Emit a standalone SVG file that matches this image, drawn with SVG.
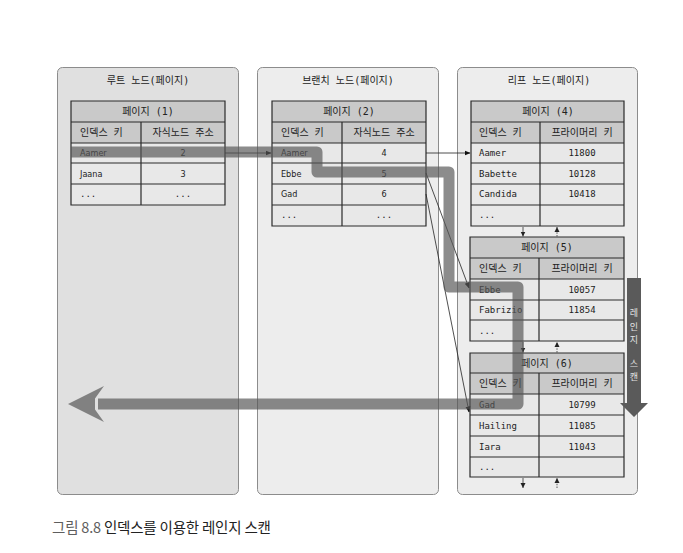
<svg xmlns="http://www.w3.org/2000/svg" width="683" height="553" viewBox="0 0 683 553">
<defs>
<style>
.panel{stroke:#8c8c8c;stroke-width:1}
.ttl{font-family:"DejaVu Sans Mono","Noto Sans CJK KR",monospace;font-size:10px;fill:#222;text-anchor:middle}
.hd{fill:#c9c9c9}
.row{fill:#e8e8e8}
.grid{fill:none;stroke:#2a2a2a;stroke-width:1.2}
.k{font-family:"DejaVu Sans Mono","Noto Sans CJK KR",monospace;font-size:10px;fill:#222}
.c{text-anchor:middle}
.p{font-family:"DejaVu Sans Condensed","DejaVu Sans",sans-serif;font-size:9px;fill:#222}
.m{font-family:"DejaVu Sans Mono",monospace;font-size:9px;fill:#222}
.thin{fill:none;stroke:#222;stroke-width:0.8}
.sm{fill:none;stroke:#333;stroke-width:0.8}
.dash{stroke-dasharray:1.5 1.2}
</style>
<marker id="ah" markerWidth="6" markerHeight="6" refX="5.5" refY="3" orient="auto" markerUnits="userSpaceOnUse">
<path d="M0,0.5 L6,3 L0,5.5 Z" fill="#111"/>
</marker>
<marker id="sh" markerWidth="6" markerHeight="6" refX="5" refY="3" orient="auto" markerUnits="userSpaceOnUse">
<path d="M0,0.5 L5,3 L0,5.5 Z" fill="#222"/>
</marker>
</defs>
<rect width="683" height="553" fill="#ffffff"/>

<g id="root-node">
<rect class="panel" x="57.5" y="67.5" width="181" height="427" rx="5" fill="#e0e0e0"/>
<text class="ttl" x="148" y="84">루트 노드(페이지)</text>
<g id="page1">
<rect class="hd" x="71" y="101" width="154" height="42"/>
<rect class="row" x="71" y="143" width="154" height="62"/>
<path class="grid" d="M71,101H225V205H71Z M71,122H225 M71,143H225 M71,163H225 M71,184H225 M141,122V205"/>
<text class="k c" x="148" y="115">페이지 (1)</text>
<text class="k" x="80" y="136">인덱스 키</text>
<text class="k c" x="183" y="136">자식노드 주소</text>
<text class="p" x="80" y="156">Aamer</text><text class="p c" x="183" y="156">2</text>
<text class="p" x="80" y="177">Jaana</text><text class="p c" x="183" y="177">3</text>
<text class="m" x="80" y="197">...</text><text class="m c" x="183" y="197">...</text>
</g>
</g>

<g id="branch-node">
<rect class="panel" x="257.5" y="67.5" width="181" height="427" rx="5" fill="#ededed"/>
<text class="ttl" x="348" y="84">브랜치 노드(페이지)</text>
<g id="page2">
<rect class="hd" x="272" y="101" width="154" height="42"/>
<rect class="row" x="272" y="143" width="154" height="83"/>
<path class="grid" d="M272,101H426V226H272Z M272,122H426 M272,143H426 M272,163H426 M272,184H426 M272,205H426 M342,122V226"/>
<text class="k c" x="349" y="115">페이지 (2)</text>
<text class="k" x="281" y="136">인덱스 키</text>
<text class="k c" x="384" y="136">자식노드 주소</text>
<text class="p" x="281" y="156">Aamer</text><text class="p c" x="384" y="156">4</text>
<text class="p" x="281" y="177">Ebbe</text><text class="p c" x="384" y="177">5</text>
<text class="p" x="281" y="197">Gad</text><text class="p c" x="384" y="197">6</text>
<text class="m" x="281" y="218">...</text><text class="m c" x="384" y="218">...</text>
</g>
</g>

<g id="leaf-node">
<rect class="panel" x="457.5" y="67.5" width="180" height="427" rx="5" fill="#ededed"/>
<text class="ttl" x="549" y="84">리프 노드(페이지)</text>
<g id="page4">
<rect class="hd" x="471" y="101" width="153" height="42"/>
<rect class="row" x="471" y="143" width="153" height="83"/>
<path class="grid" d="M471,101H624V226H471Z M471,122H624 M471,143H624 M471,163H624 M471,184H624 M471,205H624 M540,122V226"/>
<text class="k c" x="548" y="115">페이지 (4)</text>
<text class="k" x="479" y="136">인덱스 키</text>
<text class="k c" x="582" y="136">프라이머리 키</text>
<text class="m" x="479" y="156">Aamer</text><text class="m c" x="582" y="156">11800</text>
<text class="m" x="479" y="177">Babette</text><text class="m c" x="582" y="177">10128</text>
<text class="m" x="479" y="197">Candida</text><text class="m c" x="582" y="197">10418</text>
<text class="m" x="479" y="218">...</text>
</g>
<g id="page5">
<rect class="hd" x="470" y="237" width="154" height="42"/>
<rect class="row" x="470" y="279" width="154" height="62"/>
<path class="grid" d="M470,237H624V341H470Z M470,258H624 M470,279H624 M470,300H624 M470,320H624 M539,258V341"/>
<text class="k c" x="547" y="251">페이지 (5)</text>
<text class="k" x="479" y="272">인덱스 키</text>
<text class="k c" x="582" y="272">프라이머리 키</text>
<text class="m" x="479" y="293">Ebbe</text><text class="m c" x="582" y="293">10057</text>
<text class="m" x="479" y="313">Fabrizio</text><text class="m c" x="582" y="313">11854</text>
<text class="m" x="479" y="334">...</text>
</g>
<g id="page6">
<rect class="hd" x="470" y="353" width="154" height="41"/>
<rect class="row" x="470" y="394" width="154" height="83"/>
<path class="grid" d="M470,353H624V477H470Z M470,373H624 M470,394H624 M470,415H624 M470,436H624 M470,457H624 M539,373V477"/>
<text class="k c" x="547" y="367">페이지 (6)</text>
<text class="k" x="479" y="387">인덱스 키</text>
<text class="k c" x="582" y="387">프라이머리 키</text>
<text class="m" x="479" y="408">Gad</text><text class="m c" x="582" y="408">10799</text>
<text class="m" x="479" y="429">Hailing</text><text class="m c" x="582" y="429">11085</text>
<text class="m" x="479" y="450">Iara</text><text class="m c" x="582" y="450">11043</text>
<text class="m" x="479" y="470">...</text>
</g>
</g>

<g id="connectors">
<line class="thin" x1="225" y1="153" x2="271" y2="153" marker-end="url(#ah)"/>
<line class="thin" x1="426" y1="153" x2="470" y2="153" marker-end="url(#ah)"/>
<line class="thin" x1="426" y1="173" x2="469" y2="288" marker-end="url(#ah)"/>
<line class="thin" x1="426" y1="194" x2="469" y2="412" marker-end="url(#ah)"/>
<line class="sm" x1="523" y1="227" x2="523" y2="236.5" marker-end="url(#sh)"/>
<line class="sm dash" x1="557" y1="236.5" x2="557" y2="227" marker-end="url(#sh)"/>
<line class="sm" x1="523" y1="342" x2="523" y2="352.5" marker-end="url(#sh)"/>
<line class="sm dash" x1="557" y1="352.5" x2="557" y2="342" marker-end="url(#sh)"/>
<line class="sm" x1="523" y1="478" x2="523" y2="488" marker-end="url(#sh)"/>
<line class="sm dash" x1="557" y1="488" x2="557" y2="478" marker-end="url(#sh)"/>
</g>

<g id="search-path" opacity="0.68">
<path d="M71,152 H317 V172 H449 V287 H518 V404 H98" fill="none" stroke="#555" stroke-width="11" stroke-linejoin="round"/>
<polygon points="68,404 104,386 95,398.5 95,409.5 104,422" fill="#555"/>
</g>

<g id="range-scan">
<polygon points="627,278 641,278 641,403 648,403 634,417 620,403 627,403" fill="#5a5a5a"/>
<text font-family="Noto Sans CJK KR, sans-serif" font-size="9" fill="#e2e2e2" text-anchor="middle"><tspan x="634" y="316">레</tspan><tspan x="634" y="329.5">인</tspan><tspan x="634" y="343">지</tspan><tspan x="634" y="366.5">스</tspan><tspan x="634" y="380">캔</tspan></text>
</g>

<text x="52" y="533" font-family="Noto Sans CJK KR, sans-serif" font-size="14.5" letter-spacing="-0.2"><tspan fill="#5e5e5e">그림 8.8</tspan><tspan fill="#222"> 인덱스를 이용한 레인지 스캔</tspan></text>
</svg>
